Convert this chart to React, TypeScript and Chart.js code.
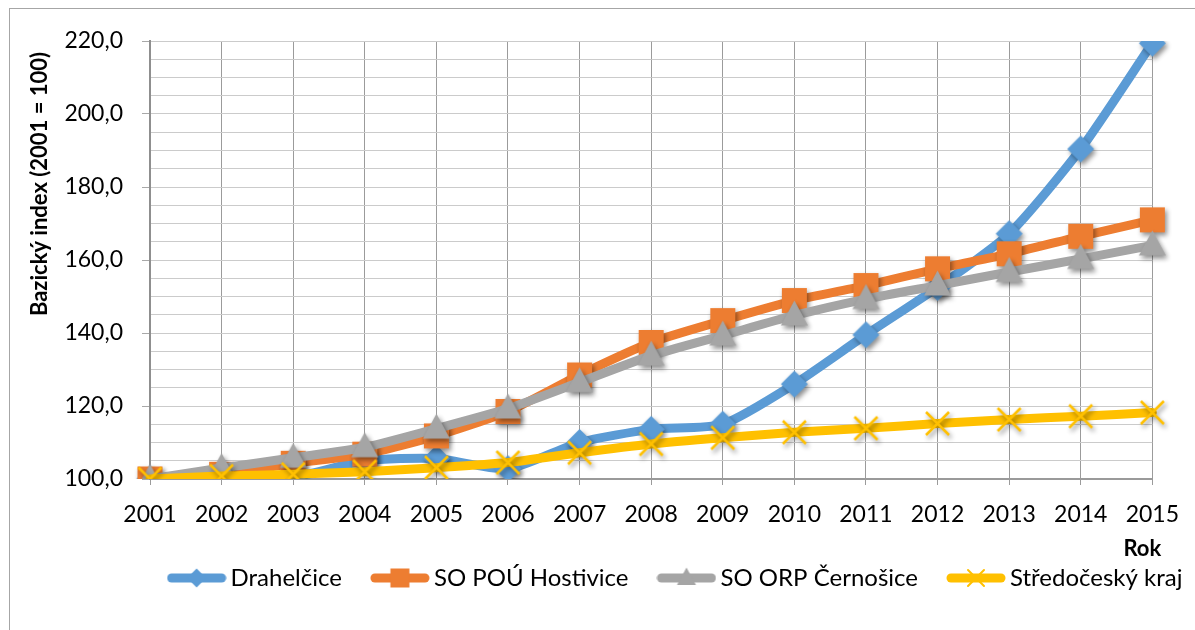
import React, { useEffect, useRef } from "react";
import { Chart, registerables } from "chart.js";

Chart.register(...registerables);

const years = ["2001", "2002", "2003", "2004", "2005", "2006", "2007", "2008", "2009", "2010", "2011", "2012", "2013", "2014", "2015"];
const drahelcice = [100.0, 100.3, 100.5, 105.0, 105.6, 102.8, 110.0, 113.6, 115.0, 126.0, 139.5, 152.5, 167.2, 190.4, 219.4];
const hostivice = [100.0, 101.3, 104.3, 106.8, 111.8, 118.5, 128.5, 137.4, 143.4, 148.9, 153.0, 157.6, 161.7, 166.5, 171.0];
const cernosice = [100.0, 103.0, 105.8, 108.7, 113.8, 119.3, 126.5, 133.8, 139.3, 144.8, 149.3, 153.0, 156.7, 160.3, 164.0];
const stredocesky = [100.0, 100.8, 101.3, 102.0, 103.1, 104.5, 107.2, 109.6, 111.3, 112.8, 113.9, 115.2, 116.3, 117.2, 118.2];

const seriesLabels = ["Drahelčice", "SO POÚ Hostivice", "SO ORP Černošice", "Středočeský kraj"];
const seriesColors = ["#5b9bd5", "#ed7d31", "#a5a5a5", "#ffc000"];
const seriesMarkers = ["diamond", "square", "triangle", "cross"];

const yTitle = "Bazický index (2001 = 100)";
const xTitle = "Rok";
const yMin = 100;
const yMax = 220;
const yStep = 5;
const yLabelStep = 20;

const FONT = "Lato, 'Open Sans', sans-serif";

function drawShape(g: CanvasRenderingContext2D, kind: string, color: string, size: number) {
  g.fillStyle = color;
  g.strokeStyle = color;
  g.beginPath();
  if (kind === "diamond") {
    const r = size / 2;
    g.moveTo(0, -r);
    g.lineTo(r, 0);
    g.lineTo(0, r);
    g.lineTo(-r, 0);
    g.closePath();
    g.fill();
  } else if (kind === "square") {
    g.rect(-size / 2, -size / 2, size, size);
    g.fill();
  } else if (kind === "triangle") {
    const w = size;
    const h = size * 0.92;
    g.moveTo(0, -h * 0.6);
    g.lineTo(w / 2, h * 0.4);
    g.lineTo(-w / 2, h * 0.4);
    g.closePath();
    g.fill();
  } else {
    const r = size / 2;
    g.lineWidth = Math.max(2, size / 9);
    g.moveTo(-r, -r);
    g.lineTo(r, r);
    g.moveTo(r, -r);
    g.lineTo(-r, r);
    g.stroke();
  }
}

function makeMarker(kind: string, color: string, size: number): HTMLCanvasElement {
  const c = document.createElement("canvas");
  const S = Math.ceil(size + 20);
  c.width = S;
  c.height = S;
  const g = c.getContext("2d") as CanvasRenderingContext2D;
  g.translate(S / 2, S / 2);
  g.shadowColor = "rgba(0,0,0,0.45)";
  g.shadowBlur = 5;
  g.shadowOffsetX = 2;
  g.shadowOffsetY = 3;
  drawShape(g, kind, color, size);
  return c;
}

function makeLegendSymbol(kind: string, color: string): HTMLCanvasElement {
  const c = document.createElement("canvas");
  c.width = 60;
  c.height = 30;
  const g = c.getContext("2d") as CanvasRenderingContext2D;
  g.strokeStyle = color;
  g.lineWidth = 9;
  g.lineCap = "round";
  g.beginPath();
  g.moveTo(5, 15);
  g.lineTo(55, 15);
  g.stroke();
  g.translate(30, 15);
  drawShape(g, kind, color, kind === "cross" ? 16 : 19);
  return c;
}

const markerSizes: Record<string, number> = { diamond: 27, square: 25, triangle: 27, cross: 23 };

export default function App() {
  const ref = useRef<HTMLCanvasElement | null>(null);

  useEffect(() => {
    if (!ref.current) return;
    const seriesData = [drahelcice, hostivice, cernosice, stredocesky];
    const markers = seriesMarkers.map((k, i) => makeMarker(k, seriesColors[i], markerSizes[k]));
    const legendSymbols = seriesMarkers.map((k, i) => makeLegendSymbol(k, seriesColors[i]));

    const textPlugin = {
      id: "customText",
      afterLayout(chart: any) {
        const lg = chart.legend;
        if (lg) {
          const desired = 678.5;
          const shift = desired - (lg.left + lg.right) / 2;
          lg.left += shift;
          lg.right += shift;
        }
      },
      afterDraw(chart: any) {
        const ctx = chart.ctx as CanvasRenderingContext2D;
        const area = chart.chartArea;
        ctx.save();
        ctx.fillStyle = "#000";
        ctx.font = `bold 22px ${FONT}`;
        ctx.textAlign = "center";
        ctx.textBaseline = "middle";
        ctx.translate(40, area.top + 143);
        ctx.rotate(-Math.PI / 2);
        ctx.fillText(yTitle, 0, 0);
        ctx.restore();
        ctx.save();
        ctx.fillStyle = "#000";
        ctx.font = `bold 22px ${FONT}`;
        ctx.textAlign = "center";
        ctx.textBaseline = "middle";
        ctx.fillText(xTitle, area.right - 10, area.bottom + 70);
        ctx.restore();
      },
    };

    const chart = new Chart(ref.current, {
      type: "line",
      data: {
        labels: years,
        datasets: seriesLabels.map((label, i) => ({
          label,
          data: seriesData[i],
          borderColor: seriesColors[i],
          backgroundColor: seriesColors[i],
          borderWidth: 9,
          borderCapStyle: "round",
          borderJoinStyle: "round",
          tension: 0.22,
          pointStyle: markers[i],
          pointRadius: 12,
          order: seriesLabels.length - i,
          fill: false,
        })),
      },
      options: {
        responsive: false,
        animation: false,
        events: [],
        layout: { padding: { left: 0, right: 40, top: 41, bottom: 30 } },
        plugins: {
          tooltip: { enabled: false },
          title: { display: false },
          legend: {
            display: true,
            position: "bottom",
            labels: {
              usePointStyle: true,
              pointStyleWidth: 44,
              padding: 36,
              color: "#000",
              font: { family: FONT, size: 24 },
              generateLabels: (ch: any) =>
                ch.data.datasets.map((ds: any, i: number) => ({
                  text: ds.label,
                  pointStyle: legendSymbols[i],
                  fillStyle: seriesColors[i],
                  strokeStyle: seriesColors[i],
                  lineWidth: 0,
                  hidden: false,
                  datasetIndex: i,
                  fontColor: "#000",
                })),
            },
          },
        },
        scales: {
          x: {
            type: "category",
            offset: false,
            afterFit: (s: any) => {
              s.height = 51;
            },
            grid: {
              display: true,
              color: "#9b9b9b",
              lineWidth: 1,
              tickLength: 6,
              tickColor: "#9b9b9b",
            },
            border: { display: true, color: "#9a9a9a", width: 2 },
            ticks: {
              color: "#000",
              font: { family: FONT, size: 23 },
              padding: 16,
              maxRotation: 0,
              autoSkip: false,
            },
          },
          y: {
            type: "linear",
            min: yMin,
            max: yMax,
            afterFit: (s: any) => {
              s.width = 150;
            },
            grid: {
              display: true,
              color: "#cbcbcb",
              lineWidth: 1,
              tickLength: 8,
              tickColor: (c: any) => (c.tick && c.tick.value % yLabelStep === 0 ? "#a8a8a8" : "rgba(0,0,0,0)"),
            },
            border: { display: true, color: "#8f8f8f", width: 2 },
            ticks: {
              stepSize: yStep,
              autoSkip: false,
              color: "#000",
              font: { family: FONT, size: 23 },
              padding: 19,
              callback: (v: any) => (Number(v) % yLabelStep === 0 ? Number(v).toFixed(1).replace(".", ",") : ""),
            },
          },
        },
      },
      plugins: [textPlugin],
    } as any);

    return () => chart.destroy();
  }, []);

  return (
    <div style={{ position: "fixed", left: 0, top: 0, width: 1195, height: 630, overflow: "hidden", background: "#fff" }}>
      <div
        style={{
          position: "absolute",
          left: 9,
          top: 8,
          width: 1400,
          height: 900,
          border: "1px solid #a6a6a6",
          boxSizing: "border-box",
        }}
      />
      <canvas ref={ref} width={1195} height={630} style={{ position: "absolute", left: 0, top: 0 }} />
    </div>
  );
}
